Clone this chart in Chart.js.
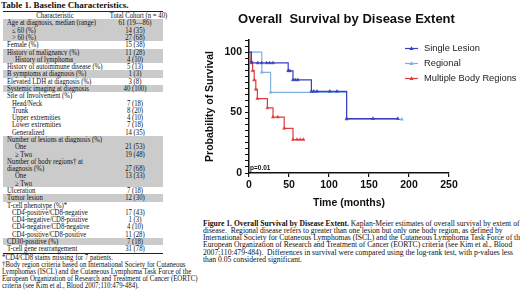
<!DOCTYPE html>
<html>
<head>
<meta charset="utf-8">
<script src="https://cdn.jsdelivr.net/npm/chart.js@4.4.1/dist/chart.umd.min.js"></script>
<style>
  html, body { margin: 0; padding: 0; background: #fff; }
  body { width: 520px; height: 294px; position: relative; overflow: hidden;
         font-family: "Liberation Serif", "Times New Roman", serif; color: #111; }
  #tbl { position: absolute; left: 0; top: 0; width: 200px; height: 294px; }
  .ttl { position: absolute; left: 1px; top: 0px; font-weight: bold; font-size: 9px; line-height: 10px; white-space: nowrap; }
  .row { position: absolute; left: 3px; width: 160px; height: 7.29px; font-size: 8px; line-height: 7.29px; white-space: nowrap; }
  .row.sh { background: #cbcbcb; }
  .row .c1 { position: absolute; left: 4px; transform: scaleX(0.84); transform-origin: 0 50%; }
  .row .c2 { position: absolute; left: 102px; width: 60px; text-align: center; transform: scaleX(0.84); transform-origin: 50% 50%; }
  .hline { position: absolute; left: 3px; width: 160px; height: 0; border-top: 0.8px solid #222; }
  .foot { position: absolute; left: 2px; top: 253.5px; font-size: 8px; line-height: 7.1px; white-space: nowrap;
          transform: scaleX(0.855); transform-origin: 0 0; }
  #chartBox { position: absolute; left: 200px; top: 0; width: 320px; height: 215px; }
  .cap { position: absolute; left: 203px; top: 219.6px; font-size: 8px; line-height: 7.25px; white-space: nowrap;
         transform: scaleX(0.95); transform-origin: 0 0; }
</style>
</head>
<body>
<div id="tbl">
  <div class="ttl">Table 1. Baseline Characteristics.</div>
</div>
<div id="chartBox"><canvas id="kmChart" width="320" height="215"></canvas></div>
<div class="cap"><b>Figure 1. Overall Survival by Disease Extent.</b> Kaplan-Meier estimates of overall survival by extent of<br>disease.&nbsp; Regional disease refers to greater than one lesion but only one body region, as defined by<br>International Society for Cutaneous Lymphomas (ISCL) and the Cutaneous Lymphoma Task Force of the<br>European Organization of Research and Treatment of Cancer (EORTC) criteria (see Kim et al., Blood<br>2007;110:479-484).&nbsp; Differences in survival were compared using the log-rank test, with p-values less<br>than 0.05 considered significant.</div>
<script>
// ---- table rows: [label, value, indent, shaded]
const tableRows = [
  ['Age at diagnosis, median (range)', '61 (19\u201486)', 0, 1],
  ['\u2264 60 (%)', '14 (35)', 1, 1],
  ['> 60 (%)', '27 (68)', 1, 1],
  ['Female (%)', '15 (38)', 0, 0],
  ['History of malignancy (%)', '11 (28)', 0, 1],
  ['History of lymphoma', '4 (10)', 2, 1],
  ['History of autoimmune disease (%)', '5 (13)', 0, 0],
  ['B symptoms at diagnosis (%)', '1 (3)', 0, 1],
  ['Elevated LDH at diagnosis (%)', '3 (8)', 0, 0],
  ['Systemic imaging at diagnosis', '40 (100)', 0, 1],
  ['Site of Involvement (%)', '', 0, 0],
  ['Head/Neck', '7 (18)', 1, 0],
  ['Trunk', '8 (20)', 1, 0],
  ['Upper extremities', '4 (10)', 1, 0],
  ['Lower extremities', '7 (18)', 1, 0],
  ['Generalized', '14 (35)', 1, 0],
  ['Number of lesions at diagnosis (%)', '', 0, 1],
  ['One', '21 (53)', 2, 1],
  ['\u2265 Two', '19 (48)', 2, 1],
  ['Number of body regions\u2020 at', '', 0, 1],
  ['diagnosis (%)', '27 (68)', 0, 1],
  ['One', '13 (33)', 2, 1],
  ['\u2265 Two', '', 2, 1],
  ['Ulceration', '7 (18)', 0, 0],
  ['Tumor lesion', '12 (30)', 0, 1],
  ['T-cell phenotype (%)*', '', 0, 0],
  ['CD4-positive/CD8-negative', '17 (43)', 1, 0],
  ['CD4-negative/CD8-positive', '1 (3)', 1, 0],
  ['CD4-negative/CD8-negative', '4 (10)', 1, 0],
  ['CD4-positive/CD8-positive', '11 (28)', 1, 0],
  ['CD30-positive (%)', '7 (18)', 0, 1],
  ['T-cell gene rearrangement', '31 (78)', 0, 0]
];
const footnotes = [
  '*CD4/CD8 stains missing for 7 patients.',
  '\u2020Body region criteria based on International Society for Cutaneous',
  'Lymphomas (ISCL) and the Cutaneous Lymphoma Task Force of the',
  'European Organization of Research and Treatment of Cancer (EORTC)',
  'criteria (see Kim et al., Blood 2007;110:479-484).'
];

// ---- Kaplan-Meier data (time in months, survival in %)
const seriesNames = ['Single Lesion', 'Regional', 'Multiple Body Regions'];
const seriesColors = ['#3b3fc2', '#7fb0e2', '#e23a3e'];
const singleTime = [0, 3, 11, 16, 22, 26, 30, 49, 51, 55, 58, 61, 78, 81, 85, 101, 110, 122, 155, 186];
const singleSurv = [100, 91, 91, 91, 91, 91, 91, 84.5, 84.5, 77, 77, 77, 67.5, 67.5, 67.5, 67.5, 67.5, 45, 45, 45];
const regionalTime = [0, 16, 27, 122, 191];
const regionalSurv = [100, 83.3, 66.7, 44.4, 44.4];
const multiTime = [0, 2.5, 4.5, 6.5, 8.5, 10.5, 23, 30, 36, 44, 55, 60, 64, 68];
const multiSurv = [100, 92.3, 84.6, 76.9, 69.2, 61.5, 53.8, 46.2, 46.2, 36.9, 27.7, 27.7, 27.7, 27.7];
const xTicks = [0, 50, 100, 150, 200, 250];
const yLabelTicks = [0, 50, 100];
const pValue = 'p=0.01';

// build the table
const tbl = document.getElementById('tbl');
function addLine(y) {
  const l = document.createElement('div');
  l.className = 'hline';
  l.style.top = y + 'px';
  tbl.appendChild(l);
}
addLine(11);
const head = document.createElement('div');
head.className = 'row';
head.style.top = '11.6px';
head.innerHTML = '<span class="c1" style="left:0;width:104px;text-align:center;transform-origin:50% 50%">Characteristic</span><span class="c2">Total Cohort (n = 40)</span>';
tbl.appendChild(head);
addLine(19.2);
tableRows.forEach((r, i) => {
  const d = document.createElement('div');
  d.className = 'row' + (r[3] ? ' sh' : '');
  d.style.top = (19.35 + i * 7.29) + 'px';
  const ind = [4, 9, 12][r[2]];
  d.innerHTML = '<span class="c1" style="left:' + ind + 'px">' + r[0] + '</span><span class="c2">' + r[1] + '</span>';
  tbl.appendChild(d);
});
addLine(19.35 + tableRows.length * 7.29);
const ft = document.createElement('div');
ft.className = 'foot';
ft.innerHTML = footnotes.join('<br>');
tbl.appendChild(ft);

// chart
function toPoints(ts, ss) {
  return ts.map((t, i) => ({ x: t, y: ss[i] }));
}
const kmData = [toPoints(singleTime, singleSurv), toPoints(regionalTime, regionalSurv), toPoints(multiTime, multiSurv)];

const fontSans = '"Liberation Sans", Arial, sans-serif';

const kmDecor = {
  id: 'kmDecor',
  afterDraw(chart) {
    const ctx = chart.ctx;
    const area = chart.chartArea;
    ctx.save();
    // title
    ctx.fillStyle = '#111';
    ctx.font = 'bold 13px ' + fontSans;
    ctx.textAlign = 'center';
    ctx.textBaseline = 'middle';
    ctx.fillText('Overall  Survival by Disease Extent', 146.5, 19);
    // p value
    ctx.font = 'bold 6.5px ' + fontSans;
    ctx.textAlign = 'left';
    ctx.fillText(pValue, area.left + 1, area.bottom - 5);
    // legend
    ctx.font = '9.3px ' + fontSans;
    chart.data.datasets.forEach((ds, i) => {
      const y = 48.5 + i * 15;
      const x0 = area.right - 44;
      ctx.strokeStyle = ds.borderColor;
      ctx.fillStyle = ds.borderColor;
      ctx.lineWidth = 1.2;
      ctx.beginPath();
      ctx.moveTo(x0, y);
      ctx.lineTo(x0 + 13, y);
      ctx.stroke();
      ctx.beginPath();
      ctx.moveTo(x0 + 6.5, y - 2.2);
      ctx.lineTo(x0 + 8.6, y + 1.5);
      ctx.lineTo(x0 + 4.4, y + 1.5);
      ctx.closePath();
      ctx.fill();
      ctx.fillStyle = '#222';
      ctx.fillText(ds.label, x0 + 19, y);
    });
    ctx.restore();
  }
};

new Chart(document.getElementById('kmChart'), {
  type: 'line',
  data: {
    datasets: seriesNames.map((name, i) => ({
      label: name,
      data: kmData[i],
      borderColor: seriesColors[i],
      backgroundColor: seriesColors[i],
      borderWidth: 1.2,
      stepped: true,
      pointStyle: 'triangle',
      pointRadius: (c) => c.dataIndex === 0 ? 0 : 1.8,
      pointBorderWidth: 0.5,
      fill: false
    }))
  },
  options: {
    responsive: false,
    animation: false,
    devicePixelRatio: 1,
    layout: { padding: { left: 2, right: 71, top: 40, bottom: 0 } },
    plugins: {
      legend: { display: false },
      title: { display: false },
      tooltip: { enabled: false }
    },
    scales: {
      x: {
        type: 'linear',
        min: 0,
        max: 250,
        afterFit: (s) => { s.height = 42; },
        afterBuildTicks: (s) => { s.ticks = xTicks.map(v => ({ value: v })); },
        ticks: { color: '#111', padding: 2, font: { family: fontSans, size: 10.5, weight: 'bold' } },
        grid: { drawOnChartArea: false, drawTicks: true, tickLength: 4, color: '#111', lineWidth: 1.2 },
        border: { display: true, color: '#111', width: 1.5 },
        title: { display: true, text: 'Time (months)', color: '#111', padding: { top: 2, bottom: 6 },
                 font: { family: fontSans, size: 10.5, weight: 'bold' } }
      },
      y: {
        min: 0,
        max: 110,
        afterFit: (s) => { s.width = 47; },
        ticks: {
          stepSize: 5,
          autoSkip: false,
          color: '#111',
          padding: 3,
          font: { family: fontSans, size: 10.5, weight: 'bold' },
          callback: (v) => yLabelTicks.includes(v) ? v : ''
        },
        grid: { drawOnChartArea: false, drawTicks: true, tickLength: 4, color: '#111', lineWidth: 1 },
        border: { display: true, color: '#111', width: 1.5 },
        title: { display: true, text: 'Probability of Survival', color: '#111', padding: { top: 2, bottom: 4 },
                 font: { family: fontSans, size: 10.5, weight: 'bold' } }
      }
    }
  },
  plugins: [kmDecor]
});
</script>
</body>
</html>
